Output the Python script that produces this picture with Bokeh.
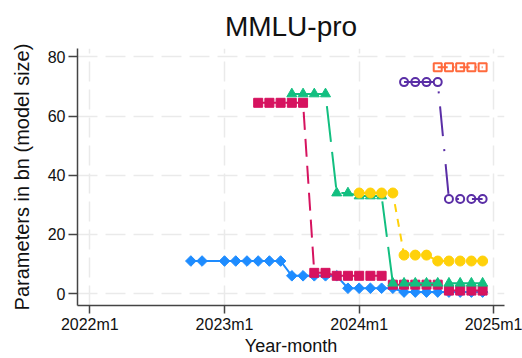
import math
from bokeh.plotting import figure
from bokeh.models import FixedTicker, Range1d
from bokeh.embed import file_html
from bokeh.resources import INLINE

# ---------------- data ----------------
title_text = "MMLU-pro"
x_label = "Year-month"
y_label = "Parameters in bn (model size)"
x_tick_labels = ["2022m1", "2023m1", "2024m1", "2025m1"]
y_ticks = [0, 20, 40, 60, 80]

blue_months = ["2022m10", "2022m11", "2023m1", "2023m2", "2023m3", "2023m4", "2023m5", "2023m6",
               "2023m7", "2023m8", "2023m9", "2023m10", "2023m11",
               "2023m12", "2024m1", "2024m2", "2024m3", "2024m4",
               "2024m5", "2024m6", "2024m7", "2024m8", "2024m9", "2024m10", "2024m11", "2024m12"]
blue_values = [11, 11, 11, 11, 11, 11, 11, 11,
               6, 6, 6, 6, 6,
               1.8, 1.8, 1.8, 1.8, 1.8,
               0.5, 0.5, 0.5, 0.5, 0.5, 0.5, 0.5, 0.5]

red_months = ["2023m4", "2023m5", "2023m6", "2023m7", "2023m8",
              "2023m9", "2023m10",
              "2023m11", "2023m12", "2024m1", "2024m2", "2024m3",
              "2024m4", "2024m5", "2024m6", "2024m7", "2024m8",
              "2024m9", "2024m10", "2024m11", "2024m12"]
red_values = [64.5, 64.5, 64.5, 64.5, 64.5,
              7, 7,
              6, 6, 6, 6, 6,
              3, 3, 3, 3, 3,
              1, 1, 1, 1]

green_months = ["2023m7", "2023m8", "2023m9", "2023m10",
                "2023m11", "2023m12", "2024m1", "2024m2", "2024m3",
                "2024m4", "2024m5", "2024m6", "2024m7", "2024m8", "2024m9", "2024m10", "2024m11", "2024m12"]
green_values = [67.5, 67.5, 67.5, 67.5,
                34, 34, 33, 33, 33,
                3.5, 3.5, 3.5, 3.5, 3.5, 3.5, 3.5, 3.5, 3.5]

yellow_months = ["2024m1", "2024m2", "2024m3", "2024m4",
                 "2024m5", "2024m6", "2024m7",
                 "2024m8", "2024m9", "2024m10", "2024m11", "2024m12"]
yellow_values = [34, 34, 34, 34,
                 13, 13, 13,
                 11, 11, 11, 11, 11]

purple_months = ["2024m5", "2024m6", "2024m7", "2024m8",
                 "2024m9", "2024m10", "2024m11", "2024m12"]
purple_values = [71.5, 71.5, 71.5, 71.5, 32, 32, 32, 32]

orange_months = ["2024m8", "2024m9", "2024m10", "2024m11", "2024m12"]
orange_values = [76.5, 76.5, 76.5, 76.5, 76.5]


def ym(s):
    y, m = s.split("m")
    return (int(y) - 2022) * 12 + (int(m) - 1)


# ---------------- figure ----------------
FONT = "Liberation Sans"
p = figure(width=522, height=358, output_backend="svg", toolbar_location=None,
           x_range=Range1d(-1.1, 36.95), y_range=Range1d(-4.04, 82.86),
           min_border_left=77, min_border_right=18, min_border_top=48, min_border_bottom=52)
p.outline_line_color = None
p.background_fill_color = "white"
p.border_fill_color = "white"

p.title.text = title_text
p.title.align = "center"
p.title.text_font = FONT
p.title.text_font_size = "28px"
p.title.text_font_style = "normal"
p.title.text_color = "#111111"
p.title.standoff = 13

x_ticks = [ym(s) for s in x_tick_labels]
p.xaxis.ticker = FixedTicker(ticks=x_ticks)
p.xaxis.major_label_overrides = {t: s for t, s in zip(x_ticks, x_tick_labels)}
p.yaxis.ticker = FixedTicker(ticks=y_ticks)

for ax in (p.xaxis[0], p.yaxis[0]):
    ax.axis_line_color = "#444444"
    ax.axis_line_width = 1.5
    ax.major_tick_line_color = "#444444"
    ax.major_tick_line_width = 1.5
    ax.major_tick_in = 0
    ax.minor_tick_line_color = None
    ax.major_label_text_font = FONT
    ax.major_label_text_font_size = "16px"
    ax.major_label_text_color = "#111111"
    ax.axis_label_text_font = FONT
    ax.axis_label_text_font_style = "normal"
    ax.axis_label_text_color = "#111111"

p.xaxis.major_tick_out = 8
p.yaxis.major_tick_out = 9
p.xaxis.major_label_standoff = 2
p.yaxis.major_label_standoff = 3
p.xaxis.axis_label = x_label
p.yaxis.axis_label = y_label
p.xaxis.axis_label_text_font_size = "18px"
p.yaxis.axis_label_text_font_size = "20px"
p.xaxis.axis_label_standoff = 0
p.yaxis.axis_label_standoff = 12

for g in (p.xgrid[0], p.ygrid[0]):
    g.grid_line_color = "#EAEAEA"
    g.grid_line_width = 1.5
    g.grid_line_dash = "20 8"

# ---------------- series ----------------
series = [
    (blue_months, blue_values, "#1E8CFF", "solid", dict(marker="square", size=7.5, angle=math.pi / 4)),
    (red_months, red_values, "#D6135F", "18 9", dict(marker="square", size=9)),
    (green_months, green_values, "#12BF80", "36 10", dict(marker="triangle", size=10)),
    (yellow_months, yellow_values, "#FFD10A", "8 7", dict(marker="circle", size=10)),
    (purple_months, purple_values, "#5A2EA6", "30 13 2 13", dict(marker="circle", size=8, fill=False)),
    (orange_months, orange_values, "#FF6A3D", "10 5 2 5", dict(marker="square", size=8, fill=False)),
]

for months, vals, color, dash, mk in series:
    xs = [ym(s) for s in months]
    p.line(xs, vals, line_color=color, line_width=2, line_dash=dash)
    fill = mk.pop("fill", True)
    p.scatter(xs, vals, line_color=color, fill_color=color if fill else None,
              line_width=2 if not fill else 1, **mk)

open("out.html", "w").write(file_html(p, INLINE))
